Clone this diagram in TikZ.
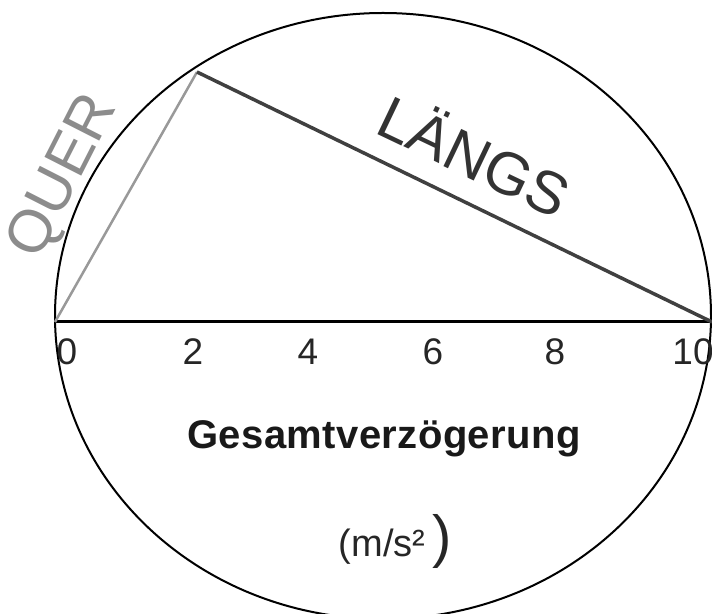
\documentclass[tikz,border=0pt]{standalone}
\usepackage{fontspec}
\setmainfont{Liberation Sans}
\usetikzlibrary{positioning}
\newcommand{\fsz}[1]{\fontsize{#1}{#1}\selectfont}

\begin{document}
\begin{tikzpicture}[x=1pt, y=1pt,
  tick/.style={font=\fsz{37}, text=black!85, inner sep=0pt},
  side/.style={font=\fsz{60}, inner sep=0pt}]
\useasboundingbox (0,0) rectangle (712,613);
\coordinate (O) at (55,291);
\coordinate (E) at (712,291);
\coordinate (P) at (197,541);
\coordinate (M) at (383,297);

\draw[line width=2pt] (M) ellipse [x radius=328pt, y radius=303pt];
\draw[line width=3pt] (O) -- (E);
\draw[line width=2.5pt, black!40] (O) -- (P);
\draw[line width=3.5pt, black!75] (P) -- (E);

\node[side, text=black!45, rotate=63] (quer) at (64,436) {QUER};
\node[side, text=black!80, rotate=-25.5] (laengs) at (476,459) {LÄNGS};

\foreach \x/\v in {67/0,193/2,308/4,433/6,555/8,693/10}
  \node[tick] (t\v) at (\x,261) {\v};

\node[font=\fsz{40}\bfseries\addfontfeature{LetterSpace=1}, text=black!90, anchor=base] (title) at (384,164) {Gesamtverzögerung};
\node[font=\fsz{38}, text=black!85, anchor=base] (unit) at (382,56) {(m/s²};
\node[font=\fsz{58}, text=black!85, inner sep=0pt] (paren) at (442,72) {)};
\end{tikzpicture}
\end{document}
